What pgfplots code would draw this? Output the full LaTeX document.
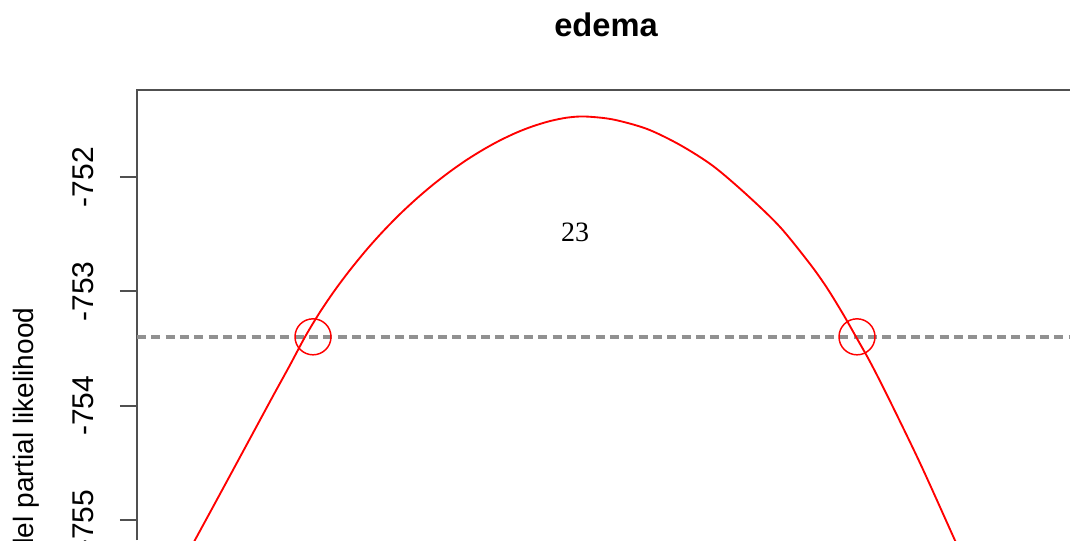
\documentclass[border=0pt]{standalone}
\usepackage{fontspec}
\setmainfont{Liberation Sans}
\newfontfamily\timesfont{Liberation Serif}
\usepackage{pgfplots}
\pgfplotsset{compat=1.18}
\definecolor{rred}{RGB}{255,0,0}
\definecolor{dashgray}{RGB}{145,145,145}
\definecolor{boxgray}{RGB}{80,80,80}

\begin{document}
\begin{tikzpicture}
% page = the cropped view of the original R plot (1 px = 0.75pt)
\useasboundingbox (0,0) rectangle (802.5pt,-405pt);
\begin{axis}[
  at={(102.75pt,-67.5pt)}, anchor=north west,
  scale only axis, width=699.75pt, height=337.5pt,
  xmin=1.37, xmax=10.70, ymin=-755.176, ymax=-751.236,
  xtick=\empty,
  ytick={-755,-754,-753,-752},
  yticklabels={-755,-754,-753,-752},
  ytick pos=left,
  tick align=outside,
  major tick length=12.75pt,
  tick style={boxgray, line width=1.5pt},
  yticklabel shift=20pt,
  yticklabel style={rotate=90, anchor=base, font=\fontsize{22.5}{22.5}\selectfont},
  axis line style={draw=none},
  clip=false,
]
\draw[boxgray, line width=1.6pt] (rel axis cs:0,0) |- (rel axis cs:1,1);
\addplot[dashgray, line width=3pt, dash pattern=on 6.75pt off 4pt]
  coordinates {(1.37,-753.397) (10.70,-753.397)};
\addplot[rred, line width=1.4pt, smooth] coordinates {
  (1.75,-755.500) (1.95,-755.176) (2.14,-754.870) (2.33,-754.563)
  (2.53,-754.239) (2.73,-753.915) (2.90,-753.644) (3.05,-753.398)
  (3.20,-753.180) (3.35,-752.987) (3.50,-752.812) (3.67,-752.630)
  (3.83,-752.474) (4.00,-752.322) (4.17,-752.184) (4.33,-752.065)
  (4.50,-751.950) (4.67,-751.846) (4.84,-751.754) (5.00,-751.677)
  (5.17,-751.607) (5.33,-751.553) (5.50,-751.508) (5.67,-751.478)
  (5.85,-751.468) (6.13,-751.494) (6.47,-751.577) (6.80,-751.717)
  (7.13,-751.901) (7.47,-752.155) (7.80,-752.435)
  (8.10,-752.759) (8.27,-752.969) (8.43,-753.197) (8.56,-753.397)
  (8.70,-753.615) (8.88,-753.924) (9.20,-754.502) (9.53,-755.141)
  (9.75,-755.570)};
\addplot[rred, only marks, mark=o, mark size=13.5pt, mark options={line width=1.1pt}]
  coordinates {(3.13,-753.397) (8.57,-753.397)};
\node[font=\timesfont\fontsize{21}{21}\selectfont] at (axis cs:5.75,-752.479) {23};
\end{axis}
\node[anchor=base, font=\bfseries\fontsize{24.5}{24.5}\selectfont] at (454.5pt,-27pt) {edema};
\node[rotate=90, anchor=base east, font=\fontsize{21}{21}\selectfont] at (24.75pt,-227.25pt) {Model partial likelihood};
\end{tikzpicture}
\end{document}
